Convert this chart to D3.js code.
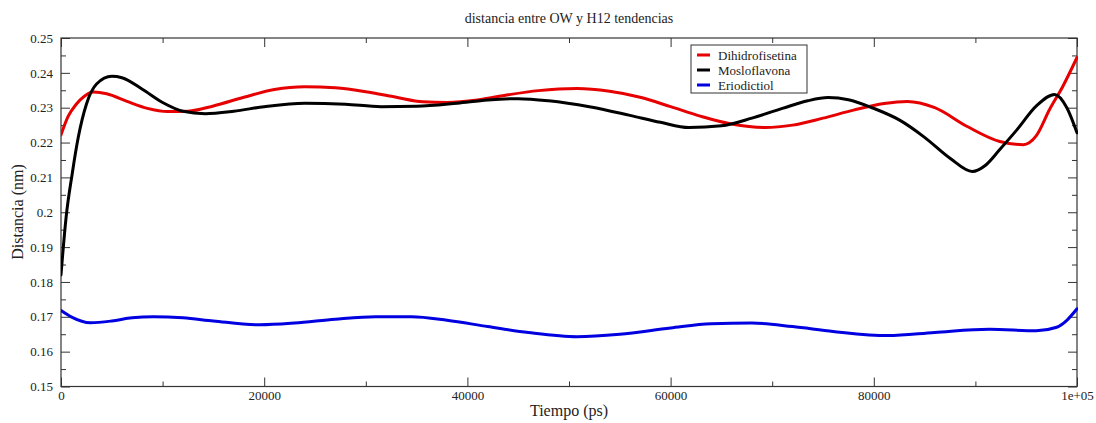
<!DOCTYPE html>
<html>
<head>
<meta charset="utf-8">
<script src="https://cdn.jsdelivr.net/npm/d3@7"></script>
<style>
  html, body { margin: 0; padding: 0; background: #fff; }
  svg { display: block; }
  svg text { font-family: "Liberation Serif", "DejaVu Serif", serif; }
</style>
</head>
<body>
<svg id="chart" width="1096" height="423"></svg>
<script>
// Distance OW–H12 trend lines for three ligands (time in ps, distance in nm)
const redTime = [0, 700, 1500, 2300, 3200, 4500, 6500, 8500, 10500, 12500, 15000, 18000, 21000, 24000, 27000, 30000, 33000, 35600, 38000, 41000, 44000, 47000, 50800, 54000, 57000, 60000, 63000, 66000, 69300, 72000, 75000, 78000, 81000, 83300, 86000, 89200, 92400, 94700, 96000, 97300, 98600, 100000];
const redValues = [0.2222, 0.2275, 0.2310, 0.2333, 0.2345, 0.2340, 0.2318, 0.2298, 0.2289, 0.2290, 0.2305, 0.2330, 0.2352, 0.2360, 0.2357, 0.2346, 0.2330, 0.2317, 0.2315, 0.2322, 0.2337, 0.2349, 0.2355, 0.2347, 0.2330, 0.2303, 0.2275, 0.2253, 0.2243, 0.2250, 0.2270, 0.2293, 0.2312, 0.2318, 0.2300, 0.2246, 0.2203, 0.2194, 0.2220, 0.2295, 0.2361, 0.2444];

const blackTime = [0, 500, 1100, 1700, 2500, 3500, 5000, 6000, 8000, 10000, 12000, 14200, 17000, 20000, 24000, 28000, 31500, 35000, 39000, 42000, 45000, 48000, 52000, 56000, 59000, 61800, 65000, 68000, 71000, 73500, 75500, 77500, 80000, 82500, 85000, 87500, 89700, 91000, 92400, 94100, 96000, 97800, 99000, 100000];
const blackValues = [0.1820, 0.1985, 0.2110, 0.2215, 0.2310, 0.2368, 0.2390, 0.2386, 0.2353, 0.2315, 0.2290, 0.2283, 0.2290, 0.2303, 0.2313, 0.2310, 0.2303, 0.2304, 0.2313, 0.2322, 0.2326, 0.2320, 0.2303, 0.2278, 0.2258, 0.2243, 0.2248, 0.2270, 0.2298, 0.2320, 0.2329, 0.2323, 0.2298, 0.2265, 0.2215, 0.2155, 0.2117, 0.2135, 0.2180, 0.2237, 0.2305, 0.2338, 0.2300, 0.2228];

const blueTime = [0, 1000, 2900, 5000, 7000, 9100, 12000, 15000, 19600, 23000, 27000, 31000, 34500, 38000, 42000, 46000, 50800, 55000, 60000, 64000, 68000, 72000, 76000, 81400, 86000, 91400, 96000, 98000, 99000, 100000];
const blueValues = [0.1718, 0.1700, 0.1683, 0.1688, 0.1697, 0.1700, 0.1697, 0.1688, 0.1677, 0.1682, 0.1693, 0.1700, 0.1700, 0.1690, 0.1672, 0.1655, 0.1643, 0.1650, 0.1668, 0.1680, 0.1682, 0.1672, 0.1658, 0.1646, 0.1655, 0.1664, 0.1660, 0.1670, 0.1690, 0.1723];

const seriesNames = ["Dihidrofisetina", "Mosloflavona", "Eriodictiol"];
const seriesColors = ["#e60000", "#000000", "#0000e0"];

const xTicks = [0, 20000, 40000, 60000, 80000, 100000];
const xTickLabels = ["0", "20000", "40000", "60000", "80000", "1e+05"];
const xMinorTicks = [10000, 30000, 50000, 70000, 90000];
const yTicks = [0.15, 0.16, 0.17, 0.18, 0.19, 0.2, 0.21, 0.22, 0.23, 0.24, 0.25];
const yTickLabels = ["0.15", "0.16", "0.17", "0.18", "0.19", "0.2", "0.21", "0.22", "0.23", "0.24", "0.25"];
const yMinorTicks = [0.155, 0.165, 0.175, 0.185, 0.195, 0.205, 0.215, 0.225, 0.235, 0.245];

const titleText = "distancia entre OW y H12 tendencias";
const xLabel = "Tiempo (ps)";
const yLabel = "Distancia (nm)";

const serif = '"Liberation Serif", "DejaVu Serif", serif';
const svg = d3.select("#chart");
const m = { left: 61, right: 1077, top: 38, bottom: 386.5 };

const x = d3.scaleLinear().domain([0, 100000]).range([m.left, m.right]);
const y = d3.scaleLinear().domain([0.15, 0.25]).range([m.bottom, m.top]);

const axisColor = "#333";
const majorLen = 9, minorLen = 5;

function styleAxis(g) {
  g.attr("font-family", serif).attr("font-size", 13);
  g.select(".domain").remove();
  g.selectAll(".tick line").attr("stroke", axisColor).attr("stroke-width", 1);
  g.selectAll(".tick text").attr("fill", "#222");
}

// bottom axis (ticks point inward)
svg.append("g").attr("transform", `translate(0,${m.bottom})`)
  .call(d3.axisBottom(x).tickValues(xTicks).tickSize(-majorLen).tickPadding(4)
    .tickFormat((d, i) => xTickLabels[i]))
  .call(styleAxis);
svg.append("g").attr("transform", `translate(0,${m.bottom})`)
  .call(d3.axisBottom(x).tickValues(xMinorTicks).tickSize(-minorLen).tickFormat(""))
  .call(styleAxis);

// top mirrored ticks
svg.append("g").attr("transform", `translate(0,${m.top})`)
  .call(d3.axisTop(x).tickValues(xTicks).tickSize(-majorLen).tickFormat(""))
  .call(styleAxis);
svg.append("g").attr("transform", `translate(0,${m.top})`)
  .call(d3.axisTop(x).tickValues(xMinorTicks).tickSize(-minorLen).tickFormat(""))
  .call(styleAxis);

// left axis
svg.append("g").attr("transform", `translate(${m.left},0)`)
  .call(d3.axisLeft(y).tickValues(yTicks).tickSize(-majorLen).tickPadding(8)
    .tickFormat((d, i) => yTickLabels[i]))
  .call(styleAxis);
svg.append("g").attr("transform", `translate(${m.left},0)`)
  .call(d3.axisLeft(y).tickValues(yMinorTicks).tickSize(-minorLen).tickFormat(""))
  .call(styleAxis);

// right mirrored ticks
svg.append("g").attr("transform", `translate(${m.right},0)`)
  .call(d3.axisRight(y).tickValues(yTicks).tickSize(-majorLen).tickFormat(""))
  .call(styleAxis);
svg.append("g").attr("transform", `translate(${m.right},0)`)
  .call(d3.axisRight(y).tickValues(yMinorTicks).tickSize(-minorLen).tickFormat(""))
  .call(styleAxis);

// plot frame
svg.append("rect")
  .attr("x", m.left).attr("y", m.top)
  .attr("width", m.right - m.left).attr("height", m.bottom - m.top)
  .attr("fill", "none").attr("stroke", axisColor).attr("stroke-width", 1.2);

// series lines
svg.append("clipPath").attr("id", "plot-clip").append("rect")
  .attr("x", m.left).attr("y", m.top - 2).attr("width", m.right - m.left + 1).attr("height", m.bottom - m.top + 4);

const line = d3.line().x(d => x(d[0])).y(d => y(d[1])).curve(d3.curveMonotoneX);
const seriesData = [
  d3.zip(redTime, redValues),
  d3.zip(blackTime, blackValues),
  d3.zip(blueTime, blueValues)
];
const plot = svg.append("g").attr("clip-path", "url(#plot-clip)");
// blue first, then red, black on top where they cross
[2, 0, 1].forEach(i => {
  plot.append("path")
    .datum(seriesData[i])
    .attr("fill", "none")
    .attr("stroke", seriesColors[i])
    .attr("stroke-width", 3)
    .attr("stroke-linejoin", "round")
    .attr("stroke-linecap", "round")
    .attr("d", line);
});

// title and axis labels
svg.append("text").attr("x", 569).attr("y", 23).attr("text-anchor", "middle")
  .attr("font-size", 14).attr("fill", "#222").text(titleText);
svg.append("text").attr("x", 569).attr("y", 416).attr("text-anchor", "middle")
  .attr("font-size", 16).attr("fill", "#222").text(xLabel);
svg.append("text").attr("transform", "translate(23,212) rotate(-90)").attr("text-anchor", "middle")
  .attr("font-size", 16).attr("fill", "#222").text(yLabel);

// legend
const lg = svg.append("g").attr("transform", "translate(691,45)");
lg.append("rect").attr("width", 116).attr("height", 48)
  .attr("fill", "#fff").attr("stroke", "#333").attr("stroke-width", 1);
seriesNames.forEach((name, i) => {
  const yy = 10 + i * 15;
  lg.append("line").attr("x1", 6).attr("x2", 19).attr("y1", yy).attr("y2", yy)
    .attr("stroke", seriesColors[i]).attr("stroke-width", 3);
  lg.append("text").attr("x", 27).attr("y", yy + 4.5)
    .attr("font-size", 13).attr("fill", "#222").text(name);
});
</script>
</body>
</html>
